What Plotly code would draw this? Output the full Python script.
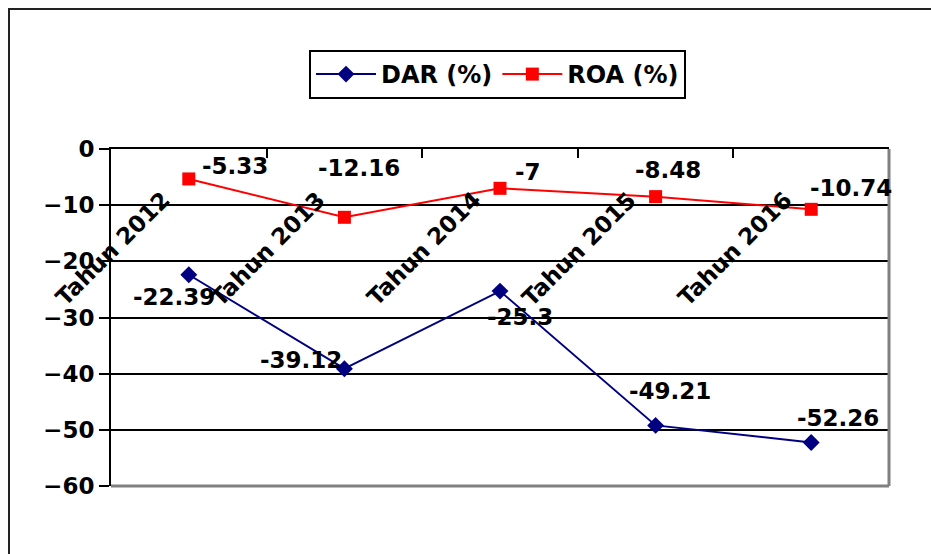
import plotly.graph_objects as go

# Data
categories = ["Tahun 2012", "Tahun 2013", "Tahun 2014", "Tahun 2015", "Tahun 2016"]
dar = [-22.39, -39.12, -25.3, -49.21, -52.26]
roa = [-5.33, -12.16, -7, -8.48, -10.74]

# Pixel offsets of the value labels relative to their points (dx right, dy down)
dar_label_offsets = [(-15, 22), (-43, -9), (20, 26), (14, -34), (27, -25)]
roa_label_offsets = [(46, -13), (15, -49), (28, -16), (12, -27), (40, -21)]

FONT = "DejaVu Sans"
W, H = 931, 554
L, R, T, B = 111, 42, 149, 68
PW, PH = W - L - R, H - T - B


def px_to_paper(x, y):
    return (x - L) / PW, (H - B - y) / PH


fig = go.Figure()

fig.add_trace(go.Scatter(
    x=categories, y=dar, name="DAR (%)", mode="lines+markers",
    line=dict(color="#000080", width=2),
    marker=dict(symbol="diamond", size=13, color="#000080"),
))
fig.add_trace(go.Scatter(
    x=categories, y=roa, name="ROA (%)", mode="lines+markers",
    line=dict(color="#FF0000", width=2),
    marker=dict(symbol="square", size=13, color="#FF0000"),
))

annotations = []
# Category labels, rotated, hanging below the zero line
for c in categories:
    annotations.append(dict(
        x=c, y=0, xref="x", yref="y", text=c, showarrow=False,
        textangle=-45, xanchor="right", yanchor="top",
        xshift=-12, yshift=-35,
        font=dict(family=FONT, size=23, color="black", weight="bold"),
    ))

# Value labels
for series, offsets in ((roa, roa_label_offsets), (dar, dar_label_offsets)):
    for c, v, (dx, dy) in zip(categories, series, offsets):
        annotations.append(dict(
            x=c, y=v, xref="x", yref="y", text=f"{v:g}", showarrow=False,
            xanchor="center", yanchor="middle", xshift=dx, yshift=-dy,
            font=dict(family=FONT, size=23, color="black", weight="bold"),
        ))

shapes = []
# Outer chart frame (runs off the right and bottom of the page)
x0, y0 = px_to_paper(9, 9)
x1, y1 = px_to_paper(960, 600)
shapes.append(dict(type="rect", xref="paper", yref="paper",
                   x0=x0, y0=y1, x1=x1, y1=y0,
                   line=dict(color="#222222", width=2)))
# Grey plot-area border on the right and bottom
shapes.append(dict(type="line", xref="paper", yref="paper",
                   x0=1, y0=0, x1=1, y1=1, line=dict(color="#808080", width=3)))
shapes.append(dict(type="line", xref="paper", yref="paper",
                   x0=0, y0=0, x1=1, y1=0, line=dict(color="#808080", width=3)))

lx, ly = px_to_paper(497.5, 50)

fig.update_layout(
    width=W, height=H,
    margin=dict(l=L, r=R, t=T, b=B),
    paper_bgcolor="white", plot_bgcolor="white",
    showlegend=True,
    legend=dict(
        orientation="h", x=lx, y=ly, xanchor="center", yanchor="top",
        bordercolor="black", borderwidth=2, bgcolor="white",
        itemwidth=60,
        font=dict(family=FONT, size=24, color="black", weight="bold"),
    ),
    xaxis=dict(
        type="category", side="top", range=[-0.5, 4.5],
        showline=True, linecolor="black", linewidth=2,
        ticks="inside", tickson="boundaries", ticklen=9,
        tickwidth=2, tickcolor="black",
        showticklabels=False, showgrid=False, zeroline=False,
    ),
    yaxis=dict(
        range=[-60, 0], dtick=10, tick0=0,
        showline=True, linecolor="black", linewidth=2,
        ticks="outside", ticklen=10, tickwidth=2, tickcolor="black",
        showgrid=True, gridcolor="black", gridwidth=2,
        zeroline=False,
        tickfont=dict(family=FONT, size=23, color="black", weight="bold"),
    ),
    annotations=annotations,
    shapes=shapes,
)

fig.write_html("out.html")
